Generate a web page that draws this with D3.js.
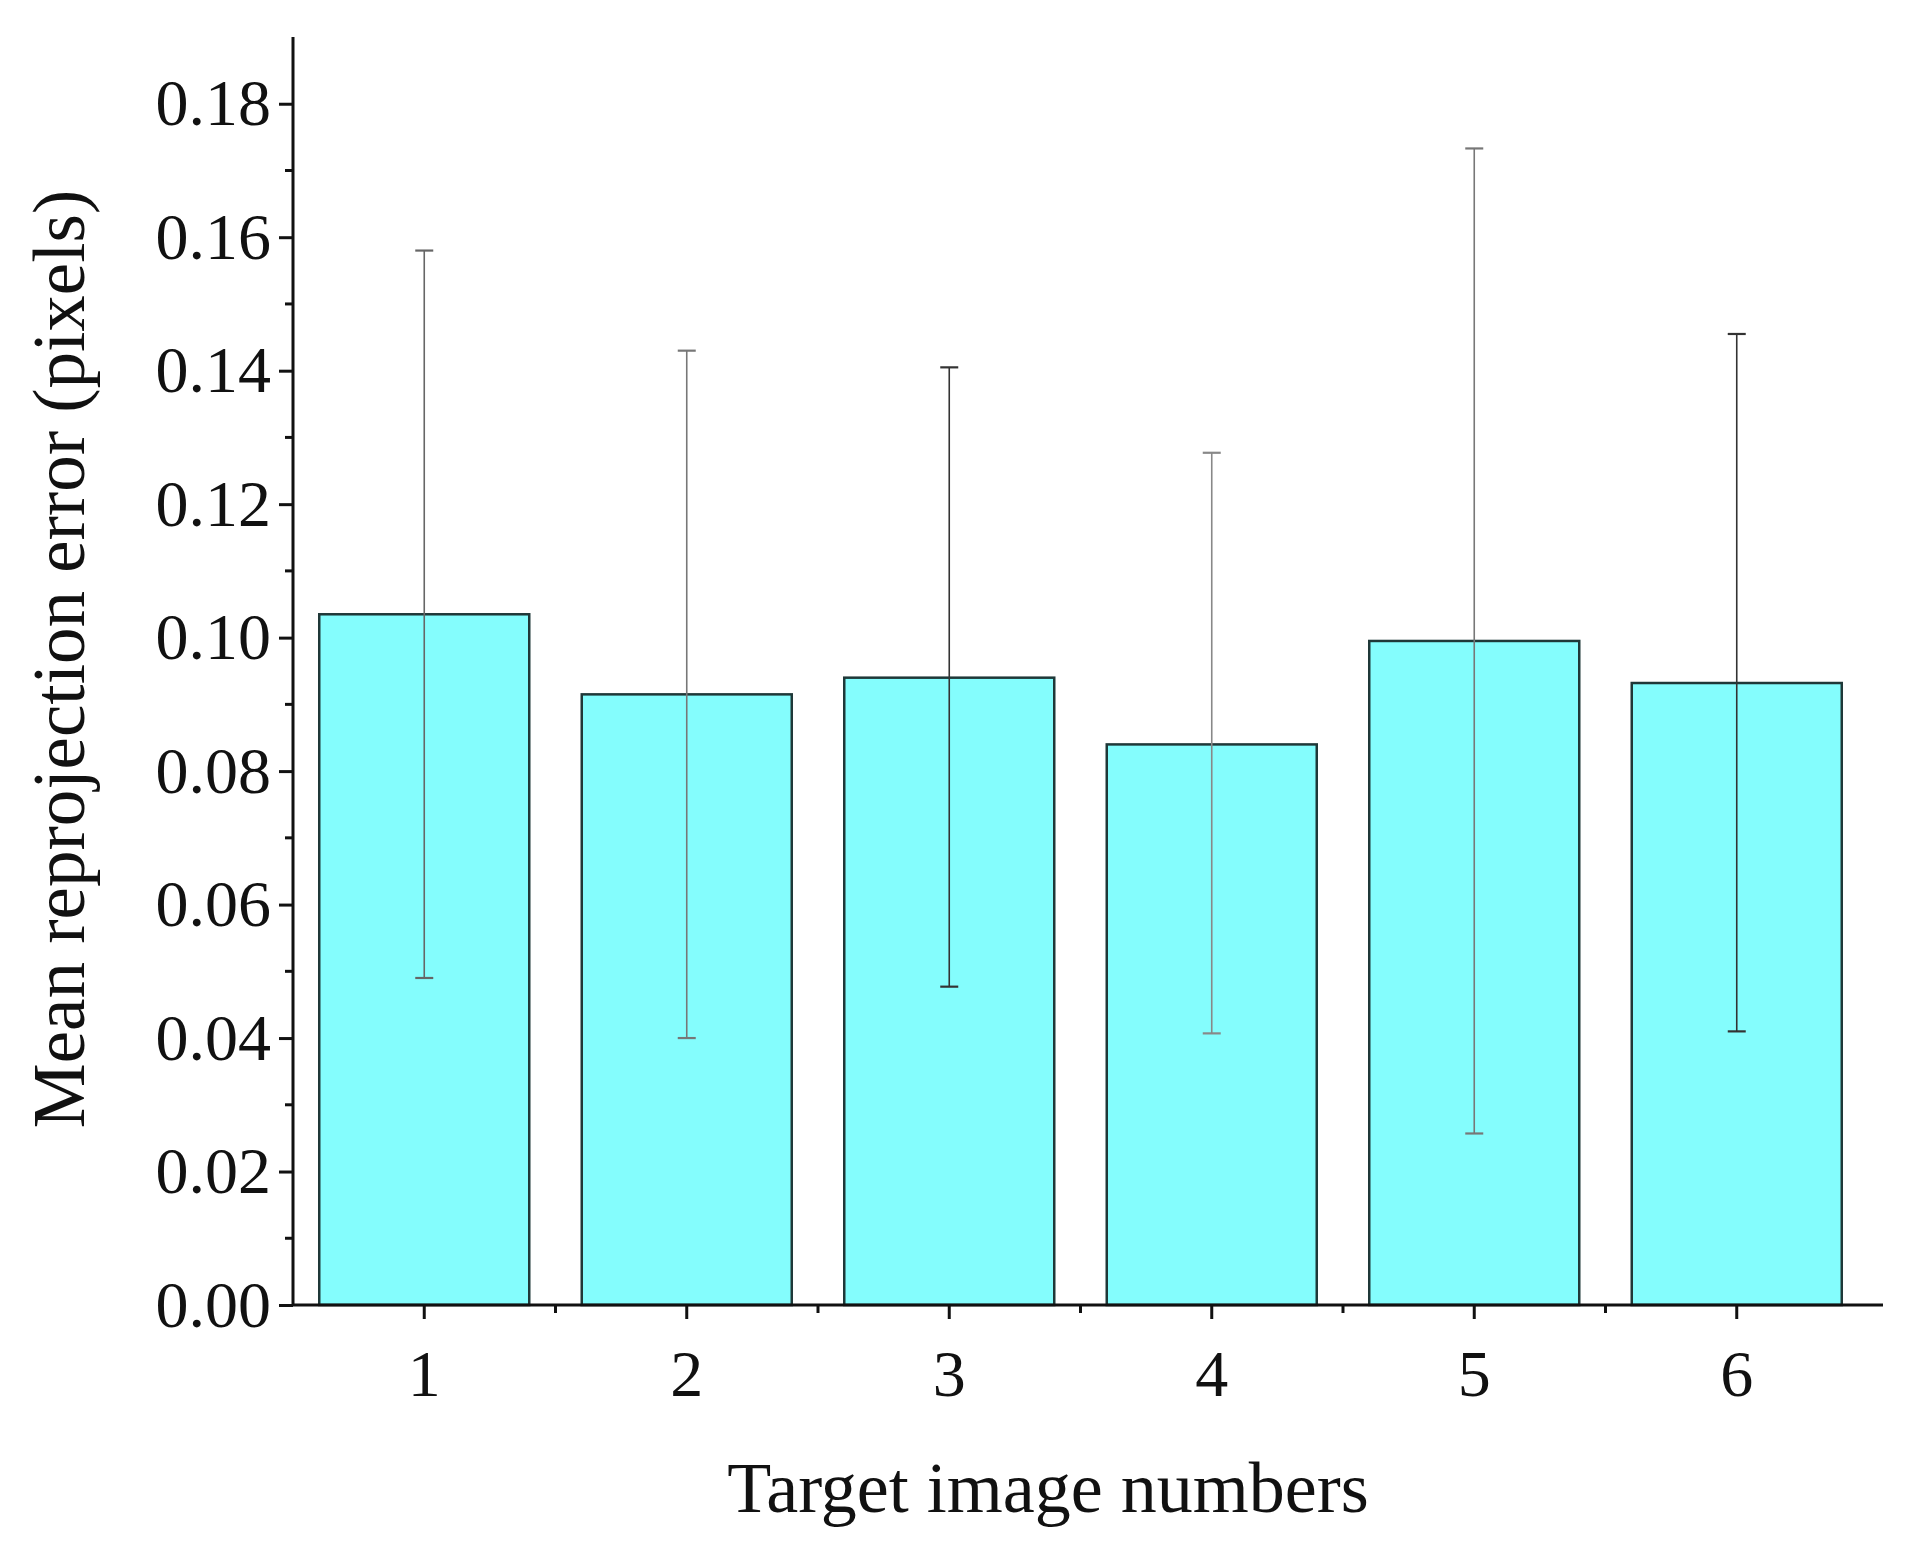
<!DOCTYPE html>
<html><head><meta charset="utf-8">
<script src="https://cdn.jsdelivr.net/npm/d3@7"></script>
<style>body{margin:0;background:#fff}</style></head>
<body><svg id="c" width="1910" height="1550"></svg>
<script>
const categories = ["1","2","3","4","5","6"];
const means = [0.1035, 0.0915, 0.094, 0.084, 0.0995, 0.0932];
const errLow = [0.049, 0.040, 0.0477, 0.0407, 0.0257, 0.041];
const errHigh = [0.158, 0.143, 0.1405, 0.1277, 0.1733, 0.1455];
const yTicks = [0,0.02,0.04,0.06,0.08,0.10,0.12,0.14,0.16,0.18];

const svg = d3.select("#c");
const L=293, R=1868, T=37, B=1305;
const x = d3.scaleBand().domain(categories).range([L,R]).paddingInner(0.2).paddingOuter(0.1);
const y = d3.scaleLinear().domain([0,0.19]).range([B,T]);
const font = "'Liberation Serif','Times New Roman',serif";

svg.selectAll("rect.bar").data(categories).join("rect")
  .attr("x",d=>x(d)).attr("width",x.bandwidth())
  .attr("y",(d,i)=>y(means[i])).attr("height",(d,i)=>B-y(means[i]))
  .attr("fill","#84fdfd").attr("stroke","#1f3838").attr("stroke-width",2.5);

const g = svg.append("g");
const errCol = ["#666","#777","#333","#888","#777","#333"];
categories.forEach((c,i)=>{
  const cx = x(c)+x.bandwidth()/2;
  g.append("line").attr("x1",cx).attr("x2",cx).attr("y1",y(errLow[i])).attr("y2",y(errHigh[i])).attr("stroke",errCol[i]).attr("stroke-width",1.6);
  [errLow[i],errHigh[i]].forEach(v=>g.append("line").attr("x1",cx-9).attr("x2",cx+9).attr("y1",y(v)).attr("y2",y(v)).attr("stroke",errCol[i]).attr("stroke-width",2.2));
});

// y axis
const ya = svg.append("g").attr("transform",`translate(${L},0)`)
  .call(d3.axisLeft(y).tickValues(yTicks).tickFormat(d3.format(".2f")).tickSize(14).tickSizeOuter(0));
ya.select(".domain").attr("d",`M0,${T}V${B}`).attr("stroke","#111").attr("stroke-width",3);
ya.selectAll(".tick line").attr("stroke","#111").attr("stroke-width",3);
ya.selectAll(".tick text").attr("font-family",font).attr("font-size",66).attr("fill","#111").attr("x",-22);
const minor = d3.range(0.01,0.19,0.02);
svg.append("g").selectAll("line").data(minor).join("line")
  .attr("x1",L-8).attr("x2",L).attr("y1",d=>y(d)).attr("y2",d=>y(d)).attr("stroke","#111").attr("stroke-width",3);

// x axis
const xa = svg.append("g").attr("transform",`translate(0,${B})`)
  .call(d3.axisBottom(x).tickSize(14).tickSizeOuter(0).tickPadding(30));
xa.select(".domain").attr("d",`M${L},0H${R+15}`).attr("stroke","#111").attr("stroke-width",3);
xa.selectAll(".tick line").attr("stroke","#111").attr("stroke-width",3);
xa.selectAll(".tick text").attr("font-family",font).attr("font-size",66).attr("fill","#111");
const step = x.step();
svg.append("g").selectAll("line").data(categories.slice(1)).join("line")
  .attr("x1",d=>x(d)-step*0.1).attr("x2",d=>x(d)-step*0.1).attr("y1",B).attr("y2",B+8).attr("stroke","#111").attr("stroke-width",3);

svg.append("text").attr("x",1048).attr("y",1512).attr("text-anchor","middle")
  .attr("font-family",font).attr("font-size",72).attr("fill","#111").text("Target image numbers");
svg.append("text").attr("transform",`translate(84,659) rotate(-90)`).attr("text-anchor","middle")
  .attr("font-family",font).attr("font-size",73).attr("fill","#111").text("Mean reprojection error (pixels)");
</script></body></html>
